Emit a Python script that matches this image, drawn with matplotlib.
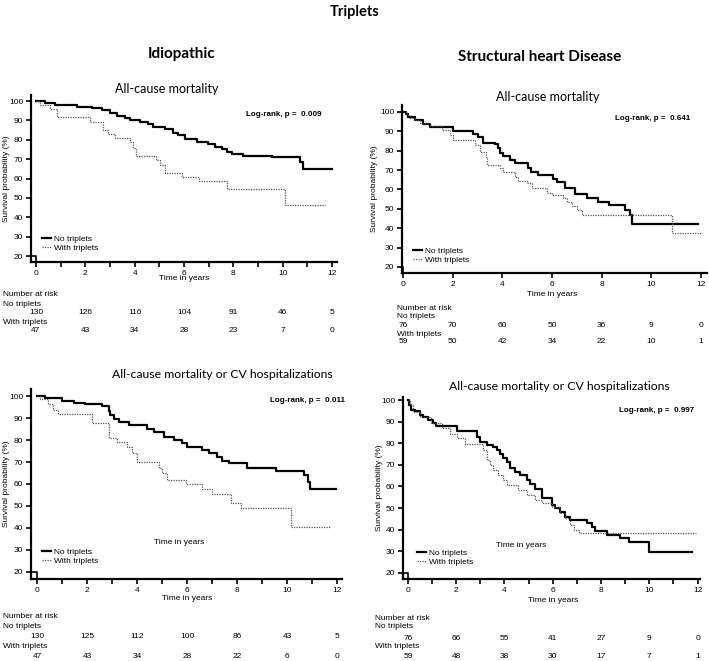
import matplotlib
matplotlib.use("Agg")
import matplotlib.pyplot as plt
from matplotlib.transforms import blended_transform_factory

W, H = 709, 661

# risk table years
risk_years = [0, 2, 4, 6, 8, 10, 12]

# Idiopathic - all-cause mortality
idio_ac_no_t = [0, 0.36, 0.77, 1.65, 2.26, 2.66, 3.0, 3.27, 3.6, 3.81, 4.22, 4.55, 4.76, 5.23, 5.57,
                5.77, 6.04, 6.51, 6.99, 7.26, 7.53, 7.73, 7.93, 8.41, 9.55, 10.7, 10.84, 12.0]
idio_ac_no_s = [100, 99, 97.9, 96.9, 96.2, 95.4, 93.6, 92.4, 91.0, 90.0, 89.2, 88.0, 86.7, 85.4, 83.6,
                82.4, 80.2, 79.0, 77.6, 76.4, 75.2, 73.8, 72.6, 71.8, 70.9, 68.7, 65.2, 65.2]
idio_ac_with_t = [0, 0.16, 0.57, 0.84, 2.19, 2.7, 2.93, 3.2, 3.81, 3.95, 4.05, 4.86, 5.03, 5.23, 5.9,
                  6.62, 7.76, 10.1, 11.7]
idio_ac_with_s = [100, 97.9, 95.7, 91.5, 89.4, 85.1, 83.0, 80.9, 78.7, 75.6, 71.8, 69.5, 67.0, 63.0, 60.9,
                  58.7, 54.4, 46.3, 46.3]
idio_ac_risk_no = [130, 126, 116, 104, 91, 46, 5]
idio_ac_risk_with = [47, 43, 34, 28, 23, 7, 0]

# Structural - all-cause mortality
sh_ac_no_t = [0, 0.12, 0.21, 0.48, 0.82, 1.09, 2.03, 2.81, 3.03, 3.23, 3.70, 3.81, 3.91, 4.04, 4.31,
              4.51, 5.05, 5.14, 5.45, 6.05, 6.19, 6.52, 6.93, 7.40, 7.87, 8.31, 8.94, 9.14, 9.21, 11.89]
sh_ac_no_s = [100, 98.8, 97.4, 95.9, 93.8, 92.4, 90.2, 88.6, 87.3, 84.2, 83.3, 81.2, 78.7, 77.3, 75.2,
              73.8, 71.3, 69.2, 67.5, 65.4, 63.7, 60.6, 57.5, 55.8, 53.7, 52.0, 49.4, 46.8, 42.2, 42.2]
sh_ac_with_t = [0, 0.15, 0.28, 0.48, 0.68, 1.09, 1.56, 1.89, 2.03, 2.90, 3.10, 3.34, 3.40, 3.91, 4.04,
                4.51, 4.64, 4.98, 5.18, 5.79, 5.99, 6.46, 6.59, 6.79, 6.99, 7.19, 10.82, 12.03]
sh_ac_with_s = [100, 98.5, 96.7, 95.9, 94.1, 92.8, 90.7, 88.1, 85.5, 83.0, 79.5, 76.9, 72.6, 70.9, 69.2,
                66.6, 64.4, 63.2, 60.6, 58.0, 57.1, 55.4, 53.7, 51.6, 49.4, 46.8, 37.3, 37.3]
sh_ac_risk_no = [76, 70, 60, 50, 36, 9, 0]
sh_ac_risk_with = [59, 50, 42, 34, 22, 10, 1]

# Idiopathic - all-cause mortality or CV hospitalizations
idio_cv_no_t = [0, 0.32, 0.99, 1.46, 1.93, 2.60, 2.86, 2.93, 3.06, 3.26, 3.67, 4.40, 4.67, 5.07, 5.47,
                5.81, 6.01, 6.61, 6.88, 7.21, 7.41, 7.68, 8.41, 9.55, 10.69, 10.82, 10.93, 11.96]
idio_cv_no_s = [100, 98.9, 97.9, 97.0, 96.2, 95.5, 93.3, 91.4, 89.4, 88.0, 87.0, 85.0, 83.5, 81.5, 80.0,
                78.5, 77.0, 75.5, 73.9, 72.4, 70.6, 69.4, 67.4, 66.1, 64.1, 61.1, 57.9, 57.9]
idio_cv_with_t = [0, 0.12, 0.45, 0.65, 0.85, 2.19, 2.86, 3.2, 3.6, 3.8, 4.0, 4.87, 5.0, 5.20, 5.94,
                  6.61, 7.01, 7.75, 8.15, 10.15, 11.76]
idio_cv_with_s = [100, 98.5, 96.4, 93.6, 91.7, 87.6, 80.8, 78.9, 77.0, 73.9, 70.2, 67.5, 64.8, 61.8, 59.8,
                  57.6, 55.3, 51.2, 48.9, 40.6, 40.6]
idio_cv_risk_no = [130, 125, 112, 100, 86, 43, 5]
idio_cv_risk_with = [47, 43, 34, 28, 22, 6, 0]

# Structural - all-cause mortality or CV hospitalizations
sh_cv_no_t = [0, 0.06, 0.15, 0.29, 0.5, 0.64, 0.84, 1.05, 1.16, 2.02, 2.88, 2.99, 3.29, 3.54, 3.68,
              3.82, 3.96, 4.10, 4.24, 4.44, 4.65, 4.93, 5.07, 5.27, 5.55, 5.97, 6.10, 6.31, 6.52, 6.73,
              7.42, 7.63, 7.76, 8.25, 8.80, 9.15, 9.98, 11.78]
sh_cv_no_s = [100, 97.7, 95.4, 94.9, 93.1, 92.0, 90.8, 89.2, 88.1, 85.8, 83.1, 80.7, 79.2, 78.1, 76.9,
              74.9, 73.0, 71.5, 68.7, 66.6, 65.3, 63.0, 61.0, 58.7, 54.9, 51.5, 49.9, 48.1, 46.1, 44.5,
              43.0, 41.4, 39.4, 37.6, 36.1, 34.1, 29.9, 29.9]
sh_cv_with_t = [0, 0.08, 0.22, 0.5, 0.98, 1.40, 1.74, 2.02, 2.37, 3.13, 3.29, 3.40, 3.54, 3.75, 3.96,
                4.10, 4.58, 4.93, 5.27, 5.55, 5.97, 6.31, 6.52, 6.73, 6.87, 7.07, 11.92]
sh_cv_with_s = [100, 97.7, 94.6, 92.3, 89.2, 86.9, 84.1, 82.6, 79.5, 76.9, 72.3, 69.9, 67.6, 65.3, 63.0,
                60.7, 58.4, 56.1, 53.8, 52.2, 50.7, 47.6, 45.3, 42.2, 39.9, 38.7, 38.7]
sh_cv_risk_no = [76, 66, 55, 41, 27, 9, 0]
sh_cv_risk_with = [59, 48, 38, 30, 17, 7, 1]

TFONT = "Lato"
AFONT = "Liberation Sans"

fig = plt.figure(figsize=(W / 100, H / 100), dpi=100)


def fx(x):
    return x / W


def fy(y):
    return 1 - y / H


def panel(box, xlim, ylim, no_t, no_s, with_t, with_s, risk_no, risk_with, title, title_xy, p_text,
          p_xy, legend_xy, xlabel_y, table_x, table_y, ylabel_x, minor=True, inner_label=None,
          title_size=9):
    left, top, right, bottom = box
    ax = fig.add_axes([fx(left), fy(bottom), (right - left) / W, (bottom - top) / H])
    ax.step(no_t, no_s, where="post", color="black", lw=1.6, label="No triplets")
    ax.step(with_t, with_s, where="post", color="#555555", lw=0.9, linestyle=(0, (1, 1)),
            label="With triplets")
    # little corner artefact near (0, 20)
    ax.plot([xlim[0], 0, 0], [20, 20, ylim[0]], color="black", lw=1.2, clip_on=False)
    ax.set_xlim(xlim)
    ax.set_ylim(ylim)
    ax.set_xticks(risk_years)
    if minor:
        ax.set_xticks(range(1, 13, 2), minor=True)
    ax.set_yticks(range(20, 101, 10))
    for s in ["top", "right"]:
        ax.spines[s].set_visible(False)
    for s in ["left", "bottom"]:
        ax.spines[s].set_linewidth(1.6)
    ax.tick_params(axis="both", which="both", direction="out", length=3.5, width=1.2,
                   labelsize=6, pad=2)
    for lab in ax.get_xticklabels() + ax.get_yticklabels():
        lab.set_fontfamily(AFONT)
    ax.set_ylabel("Survival probability (%)", fontsize=6, fontfamily=AFONT)
    ax.yaxis.set_label_coords((ylabel_x - left) / (right - left), 0.5)

    ax.legend(loc="upper left", bbox_to_anchor=(fx(legend_xy[0]), fy(legend_xy[1])),
              bbox_transform=fig.transFigure, frameon=False, borderpad=0, borderaxespad=0,
              handlelength=1.1, handletextpad=0.3, labelspacing=0.15,
              prop={"family": AFONT, "size": 6})

    fig.text(fx(title_xy[0]), fy(title_xy[1]), title, ha="center", va="center",
             fontsize=title_size, fontfamily=TFONT)
    fig.text(fx(p_xy[0]), fy(p_xy[1]), p_text, ha="left", va="center",
             fontsize=5.8, fontweight="bold", fontfamily=AFONT)

    tr = blended_transform_factory(ax.transData, fig.transFigure)
    ax.text(6, fy(xlabel_y), "Time in years", transform=tr, ha="center", va="center",
            fontsize=6, fontfamily=AFONT)
    if inner_label is not None:
        ax.text(inner_label[0], inner_label[1], "Time in years", ha="center", va="center",
                fontsize=6, fontfamily=AFONT)

    y0, y1, y2, y3, y4 = table_y
    fig.text(fx(table_x), fy(y0), "Number at risk", ha="left", va="center", fontsize=6,
             fontfamily=AFONT)
    fig.text(fx(table_x), fy(y1), "No triplets", ha="left", va="center", fontsize=6,
             fontfamily=AFONT)
    fig.text(fx(table_x), fy(y3), "With triplets", ha="left", va="center", fontsize=6,
             fontfamily=AFONT)
    for yr, a, b in zip(risk_years, risk_no, risk_with):
        ax.text(yr, fy(y2), str(a), transform=tr, ha="center", va="center", fontsize=6,
                fontfamily=AFONT)
        ax.text(yr, fy(y4), str(b), transform=tr, ha="center", va="center", fontsize=6,
                fontfamily=AFONT)
    return ax


panel((31, 95, 337, 262), (-0.2, 12.2), (17.0, 103.1),
      idio_ac_no_t, idio_ac_no_s, idio_ac_with_t, idio_ac_with_s,
      idio_ac_risk_no, idio_ac_risk_with, "All-cause mortality", (167, 89),
      "Log-rank, p =  0.009", (246, 115), (42, 235), 279, 3, (295, 304, 313, 322, 331), 10.5)

panel((402, 105, 707, 273), (-0.04, 12.24), (16.9, 103.6),
      sh_ac_no_t, sh_ac_no_s, sh_ac_with_t, sh_ac_with_s,
      sh_ac_risk_no, sh_ac_risk_with, "All-cause mortality", (548, 97),
      "Log-rank, p =  0.641", (615, 119), (413, 247), 294, 397, (308, 317, 326, 334, 342), 378,
      minor=False)

panel((31, 389, 342, 579), (-0.24, 12.2), (16.8, 103.2),
      idio_cv_no_t, idio_cv_no_s, idio_cv_with_t, idio_cv_with_s,
      idio_cv_risk_no, idio_cv_risk_with, "All-cause mortality or CV hospitalizations", (222, 375),
      "Log-rank, p =  0.011", (270, 400), (42, 548), 598, 3, (617, 627, 637, 647, 657), 10.5,
      inner_label=(5.7, 33.5), title_size=8.8)

panel((403, 397, 700, 579), (-0.2, 12.1), (17.2, 101.4),
      sh_cv_no_t, sh_cv_no_s, sh_cv_with_t, sh_cv_with_s,
      sh_cv_risk_no, sh_cv_risk_with, "All-cause mortality or CV hospitalizations", (559, 386),
      "Log-rank, p =  0.997", (619, 411), (417, 549), 601, 375, (618, 627, 638, 647, 657), 383,
      inner_label=(4.7, 32.5), title_size=8.8)

fig.text(fx(355), fy(12), "Triplets", ha="center", va="center", fontsize=10.5,
         fontweight="bold", fontfamily=TFONT)
fig.text(fx(182), fy(54), "Idiopathic", ha="center", va="center", fontsize=11,
         fontweight="bold", fontfamily=TFONT)
fig.text(fx(540), fy(57), "Structural heart Disease", ha="center", va="center", fontsize=11,
         fontweight="bold", fontfamily=TFONT)

fig.savefig("out.png", dpi=100)
